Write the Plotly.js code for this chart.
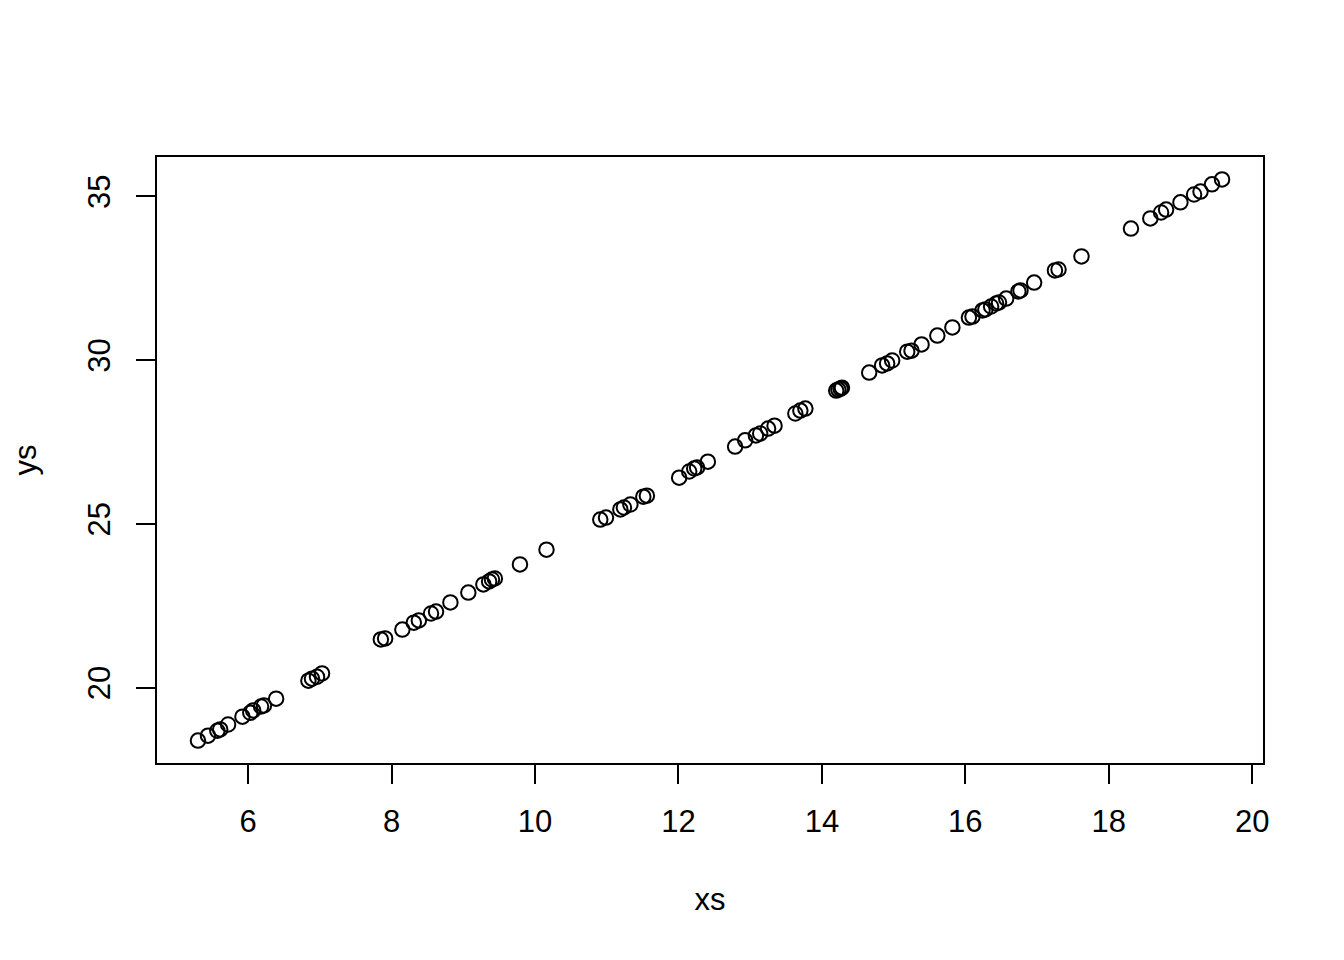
<!DOCTYPE html>
<html>
<head>
<meta charset="utf-8">
<script src="https://cdn.plot.ly/plotly-3.0.1.min.js"></script>
<style>html,body{margin:0;padding:0;background:#fff;}</style>
</head>
<body>
<div id="chart" style="width:1344px;height:960px;"></div>
<script>
const xs = [5.30,5.44,5.57,5.61,5.72,5.92,6.03,6.07,6.18,6.22,6.39,6.84,6.89,6.96,7.03,7.85,7.91,8.15,8.31,8.38,8.55,8.62,8.82,9.07,9.28,9.36,9.40,9.44,9.79,10.16,10.91,10.99,11.19,11.24,11.33,11.51,11.56,12.01,12.15,12.22,12.26,12.41,12.79,12.93,13.08,13.14,13.25,13.34,13.63,13.70,13.77,14.20,14.23,14.26,14.28,14.66,14.84,14.91,14.98,15.19,15.25,15.39,15.61,15.82,16.05,16.10,16.24,16.28,16.36,16.43,16.47,16.57,16.74,16.77,16.96,17.25,17.30,17.62,18.31,18.58,18.73,18.80,19.00,19.19,19.28,19.44,19.58];
const ys = [18.38,18.53,18.68,18.72,18.87,19.11,19.23,19.30,19.42,19.45,19.66,20.21,20.27,20.33,20.43,21.47,21.50,21.77,21.98,22.05,22.26,22.32,22.60,22.90,23.15,23.24,23.30,23.33,23.76,24.21,25.13,25.19,25.44,25.50,25.59,25.83,25.86,26.41,26.60,26.69,26.72,26.90,27.36,27.55,27.70,27.76,27.91,28.00,28.37,28.46,28.52,29.07,29.10,29.13,29.16,29.62,29.84,29.90,29.99,30.26,30.29,30.48,30.75,31.00,31.30,31.33,31.52,31.55,31.64,31.73,31.76,31.88,32.10,32.13,32.37,32.74,32.77,33.17,34.02,34.33,34.51,34.60,34.82,35.06,35.15,35.37,35.52];
const xTicks = [6, 8, 10, 12, 14, 16, 18, 20];
const yTicks = [20, 25, 30, 35];
const xLabel = "xs";
const yLabel = "ys";

function padRange(arr) {
  const mn = Math.min(...arr), mx = Math.max(...arr);
  const d = (mx - mn) * 0.04;
  return [mn - d, mx + d];
}

const fontFam = "Liberation Sans, Arial, Helvetica, sans-serif";
const trace = {
  x: xs, y: ys, type: "scatter", mode: "markers",
  marker: {symbol: "circle-open", size: 14.5, color: "#000", line: {width: 2, color: "#000"}},
  hoverinfo: "x+y"
};
const layout = {
  width: 1344, height: 960,
  margin: {l: 157, r: 81, t: 157, b: 197, pad: 0},
  paper_bgcolor: "#fff", plot_bgcolor: "#fff",
  showlegend: false,
  font: {family: fontFam, size: 31, color: "#000"},
  xaxis: {
    range: padRange(xs), tickvals: xTicks, ticktext: xTicks.map(String),
    showgrid: false, zeroline: false,
    showline: true, mirror: true, linecolor: "#000", linewidth: 2,
    ticks: "outside", ticklen: 19, tickwidth: 2, tickcolor: "#000",
    ticklabelstandoff: 11,
    tickfont: {family: fontFam, size: 31, color: "#000"},
    title: {text: xLabel, font: {family: fontFam, size: 31, color: "#000"}, standoff: 50},
    automargin: false
  },
  yaxis: {
    range: padRange(ys), tickvals: yTicks, ticktext: yTicks.map(String),
    showgrid: false, zeroline: false,
    showline: true, mirror: true, linecolor: "#000", linewidth: 2,
    ticks: "outside", ticklen: 19, tickwidth: 2, tickcolor: "#000",
    tickangle: -90, ticklabelstandoff: 14,
    tickfont: {family: fontFam, size: 31, color: "#000"},
    title: {text: yLabel, font: {family: fontFam, size: 31, color: "#000"}, standoff: 36},
    automargin: false
  }
};
Plotly.newPlot("chart", [trace], layout, {displayModeBar: false, staticPlot: true});
</script>
</body>
</html>
